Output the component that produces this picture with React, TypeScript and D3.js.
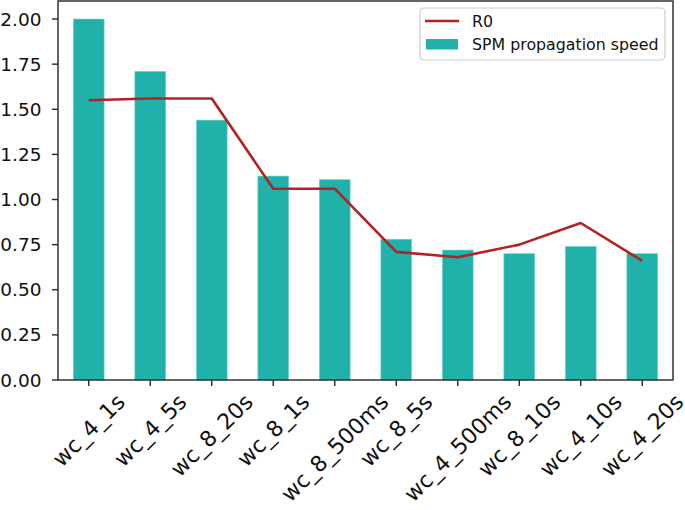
import React from 'react';
import * as d3 from 'd3';

const categories = ['wc_4_1s', 'wc_4_5s', 'wc_8_20s', 'wc_8_1s', 'wc_8_500ms', 'wc_8_5s', 'wc_4_500ms', 'wc_8_10s', 'wc_4_10s', 'wc_4_20s'];
const spmSpeed = [2.0, 1.71, 1.44, 1.13, 1.11, 0.78, 0.72, 0.70, 0.74, 0.70];
const r0 = [1.55, 1.56, 1.56, 1.06, 1.06, 0.71, 0.68, 0.75, 0.87, 0.66];
const yTicks = [0, 0.25, 0.5, 0.75, 1.0, 1.25, 1.5, 1.75, 2.0];

const width = 685;
const height = 510;
const marginLeft = 58;
const marginRight = 12;
const marginTop = 1;
const marginBottom = 130;

const font = 'DejaVu Sans, sans-serif';
const yTickSize = 18.5;
const xTickSize = 22;
const legendSize = 15.8;
const barColor = '#20b2aa';
const lineColor = '#b22222';
const axisColor = '#262626';

let ctx: CanvasRenderingContext2D | null = null;
const measure = (s: string, size: number) => {
    if (!ctx) ctx = document.createElement('canvas').getContext('2d');
    if (!ctx) return s.length * size * 0.6;
    ctx.font = `${size}px DejaVu Sans`;
    return ctx.measureText(s).width;
};

const App: React.FC = () => {
    const x = d3.scaleBand<string>()
        .domain(categories)
        .range([marginLeft, width - marginRight])
        .paddingInner(0.5)
        .paddingOuter(0.25);
    const y = d3.scaleLinear().domain([0, 2.1]).range([height - marginBottom, marginTop]);
    const bottom = height - marginBottom;

    const line = d3.line<number>()
        .x((_, i) => (x(categories[i]) ?? 0) + x.bandwidth() / 2)
        .y(d => y(d));

    return (
        <svg width={width} height={height} viewBox={`0 0 ${width} ${height}`}
            style={{ position: 'absolute', left: 0, top: 0 }} fontFamily={font}>
            <rect x={0} y={0} width={width} height={height} fill="white" />

            {spmSpeed.map((v, i) => (
                <rect key={categories[i]}
                    x={x(categories[i])}
                    y={y(v)}
                    width={x.bandwidth()}
                    height={bottom - y(v)}
                    fill={barColor}
                    stroke="#6fd3cc"
                    strokeWidth={0.6}
                />
            ))}

            <path d={line(r0) ?? ''} fill="none" stroke={lineColor} strokeWidth={2.6} strokeLinejoin="round" />

            {/* y axis */}
            {yTicks.map(t => (
                <g key={t}>
                    <line x1={marginLeft - 6} x2={marginLeft} y1={y(t)} y2={y(t)} stroke={axisColor} strokeWidth={1.4} />
                    <text x={41.5} y={y(t)} textAnchor="end" dominantBaseline="central" fontSize={yTickSize} fill="#111">
                        {t.toFixed(2)}
                    </text>
                </g>
            ))}

            {/* x axis */}
            {categories.map(c => {
                const cx = (x(c) ?? 0) + x.bandwidth() / 2;
                const w = measure(c, xTickSize);
                const h = xTickSize * 0.9;
                const cy = bottom + 11 + (w + h) / (2 * Math.SQRT2);
                return (
                    <g key={c}>
                        <line x1={cx} x2={cx} y1={bottom} y2={bottom + 6} stroke={axisColor} strokeWidth={1.4} />
                        <text x={cx} y={cy} textAnchor="middle" dominantBaseline="central"
                            fontSize={xTickSize} fill="#111" transform={`rotate(-45 ${cx} ${cy})`}>
                            {c}
                        </text>
                    </g>
                );
            })}

            {/* spines */}
            <rect x={marginLeft} y={marginTop} width={width - marginLeft - marginRight} height={bottom - marginTop}
                fill="none" stroke={axisColor} strokeWidth={1.4} />

            {/* legend */}
            <g>
                <rect x={420} y={8} width={245} height={52} rx={4} fill="white" fillOpacity={0.8} stroke="#cccccc" strokeWidth={1.2} />
                <line x1={425} x2={459} y1={21} y2={21} stroke={lineColor} strokeWidth={2.6} />
                <text x={472} y={21} dominantBaseline="central" fontSize={legendSize} fill="#111">R0</text>
                <rect x={426} y={39} width={32} height={10.5} fill={barColor} />
                <text x={472} y={44} dominantBaseline="central" fontSize={legendSize} fill="#111">SPM propagation speed</text>
            </g>
        </svg>
    );
};

export default App;
